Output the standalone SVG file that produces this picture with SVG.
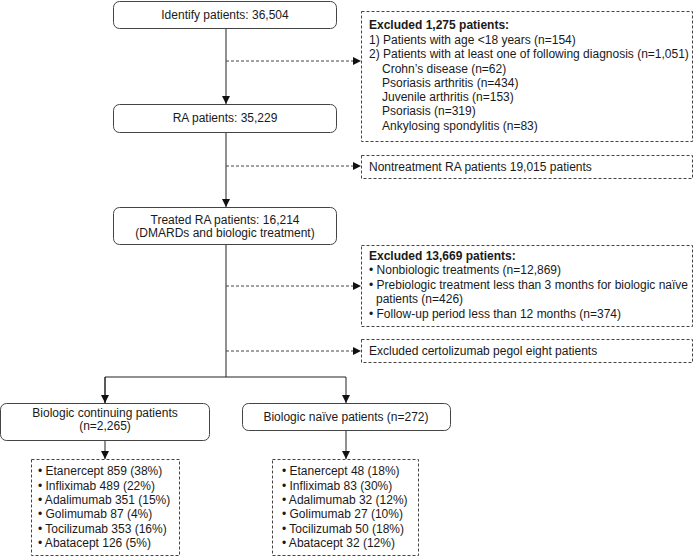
<svg xmlns="http://www.w3.org/2000/svg" width="695" height="556" viewBox="0 0 695 556">
<style>
text{font-family:"Liberation Sans",Arial,sans-serif;font-size:12px;fill:#1a1a1a}
.c{text-anchor:middle}
.b{font-weight:bold}
.node{fill:#fff;stroke:#444;stroke-width:1}
.dbox{fill:#fff;stroke:#444;stroke-width:1;stroke-dasharray:3,2}
.ln{fill:none;stroke:#222;stroke-width:1}
.dl{fill:none;stroke:#444;stroke-width:1;stroke-dasharray:3,2}
</style>
<defs>
<marker id="ah" markerUnits="userSpaceOnUse" markerWidth="8" markerHeight="8" refX="8" refY="4" orient="auto">
<path d="M0,0 L8,4 L0,8 z" fill="#111"/>
</marker>
</defs>
<g id="connectors">
<line class="ln" x1="226" y1="29" x2="226" y2="104" marker-end="url(#ah)"/>
<line class="dl" x1="226" y1="61" x2="361" y2="61" marker-end="url(#ah)"/>
<line class="ln" x1="226" y1="133" x2="226" y2="207" marker-end="url(#ah)"/>
<line class="dl" x1="226" y1="166" x2="361" y2="166" marker-end="url(#ah)"/>
<line class="ln" x1="226" y1="245" x2="226" y2="377"/>
<line class="dl" x1="226" y1="286" x2="361" y2="286" marker-end="url(#ah)"/>
<line class="dl" x1="226" y1="351" x2="361" y2="351" marker-end="url(#ah)"/>
<polyline class="ln" points="105,403 105,377 346,377 346,403" marker-end="url(#ah)"/>
<line class="ln" x1="105" y1="377" x2="105" y2="403" marker-end="url(#ah)"/>
<line class="ln" x1="105" y1="440" x2="105" y2="459" marker-end="url(#ah)"/>
<line class="ln" x1="346" y1="430" x2="346" y2="459" marker-end="url(#ah)"/>
</g>
<g id="identify">
<rect class="node" x="113.5" y="1.5" width="223" height="27" rx="6"/>
<text class="c" x="225" y="19">Identify patients: 36,504</text>
</g>
<g id="excluded1">
<rect class="dbox" x="361.5" y="11.5" width="331" height="130"/>
<text x="369" y="29" class="b">Excluded 1,275 patients:</text>
<text x="369" y="44">1) Patients with age &lt;18 years (n=154)</text>
<text x="369" y="58">2) Patients with at least one of following diagnosis (n=1,051)</text>
<text x="382" y="73">Crohn’s disease (n=62)</text>
<text x="382" y="87">Psoriasis arthritis (n=434)</text>
<text x="382" y="101">Juvenile arthritis (n=153)</text>
<text x="382" y="115">Psoriasis (n=319)</text>
<text x="382" y="130">Ankylosing spondylitis (n=83)</text>
</g>
<g id="ra">
<rect class="node" x="113.5" y="104.5" width="223" height="28" rx="6"/>
<text class="c" x="225" y="122">RA patients: 35,229</text>
</g>
<g id="nontreatment">
<rect class="dbox" x="361.5" y="155.5" width="331" height="23"/>
<text x="369" y="171">Nontreatment RA patients 19,015 patients</text>
</g>
<g id="treated">
<rect class="node" x="113.5" y="207.5" width="223" height="37" rx="6"/>
<text class="c" x="225" y="224">Treated RA patients: 16,214</text>
<text class="c" x="225" y="237">(DMARDs and biologic treatment)</text>
</g>
<g id="excluded2">
<rect class="dbox" x="361.5" y="245.5" width="331" height="81"/>
<text x="369" y="260" class="b">Excluded 13,669 patients:</text>
<text x="369" y="274">• Nonbiologic treatments (n=12,869)</text>
<text x="369" y="289">• Prebiologic treatment less than 3 months for biologic naïve</text>
<text x="376" y="303">patients (n=426)</text>
<text x="369" y="318">• Follow-up period less than 12 months (n=374)</text>
</g>
<g id="certolizumab">
<rect class="dbox" x="361.5" y="339.5" width="331" height="23"/>
<text x="369" y="355">Excluded certolizumab pegol eight patients</text>
</g>
<g id="continuing">
<rect class="node" x="0.5" y="403.5" width="209" height="37" rx="6"/>
<text class="c" x="105" y="417">Biologic continuing patients</text>
<text class="c" x="105" y="430">(n=2,265)</text>
</g>
<g id="naive">
<rect class="node" x="242.5" y="403.5" width="208" height="27" rx="6"/>
<text class="c" x="346" y="421">Biologic naïve patients (n=272)</text>
</g>
<g id="list-continuing">
<rect class="dbox" x="31.5" y="459.5" width="148" height="96"/>
<text x="38" y="475">• Etanercept 859 (38%)</text>
<text x="38" y="490">• Infliximab 489 (22%)</text>
<text x="38" y="504">• Adalimumab 351 (15%)</text>
<text x="38" y="518">• Golimumab 87 (4%)</text>
<text x="38" y="533">• Tocilizumab 353 (16%)</text>
<text x="38" y="547">• Abatacept 126 (5%)</text>
</g>
<g id="list-naive">
<rect class="dbox" x="272.5" y="459.5" width="146" height="96"/>
<text x="282" y="475">• Etanercept 48 (18%)</text>
<text x="282" y="490">• Infliximab 83 (30%)</text>
<text x="282" y="504">• Adalimumab 32 (12%)</text>
<text x="282" y="518">• Golimumab 27 (10%)</text>
<text x="282" y="533">• Tocilizumab 50 (18%)</text>
<text x="282" y="547">• Abatacept 32 (12%)</text>
</g>
</svg>
